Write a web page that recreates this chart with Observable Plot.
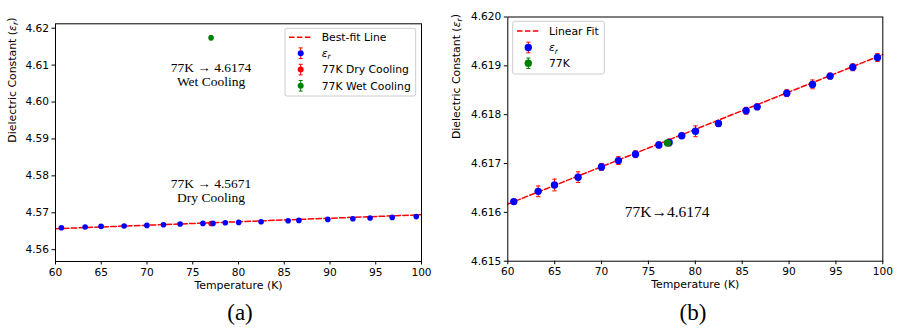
<!DOCTYPE html>
<html><head><meta charset="utf-8">
<script src="https://cdn.jsdelivr.net/npm/d3@7"></script>
<script src="https://cdn.jsdelivr.net/npm/@observablehq/plot@0.6"></script>
<style>
body{margin:0;background:#fff;}
#wrap{position:relative;width:897px;height:328px;overflow:hidden;}
.panel{position:absolute;top:0;}
.cap{position:absolute;top:301px;font-family:"Liberation Serif",serif;font-size:23px;line-height:23px;text-align:center;width:60px;color:#000;}
</style></head><body>
<div id="wrap"></div>
<script>
// ---- data ----
const temps = [60.64, 63.24, 64.98, 67.50, 69.99, 71.80, 73.62, 76.11, 77.21, 78.56, 80.02, 82.47, 85.42, 86.60, 89.76, 92.50, 94.38, 96.80, 99.43];
const epsA  = [4.56595, 4.56613, 4.56631, 4.56640, 4.56658, 4.56676, 4.56694, 4.56712, 4.56712, 4.56730, 4.56739, 4.56757, 4.56785, 4.56794, 4.56821, 4.56839, 4.56857, 4.56875, 4.56897];
const epsB  = [4.61622, 4.61643, 4.61656, 4.61672, 4.61693, 4.61706, 4.61719, 4.61738, 4.61743, 4.61757, 4.61766, 4.61782, 4.61808, 4.61816, 4.61844, 4.61862, 4.61879, 4.61897, 4.61917];
const errB  = [0.00004, 0.00011, 0.00012, 0.00011, 0.00007, 0.00008, 0.00007, 0.00006, 0.00007, 0.00005, 0.00011, 0.00006, 0.00007, 0.00006, 0.00007, 0.00009, 0.00006, 0.00007, 0.00008];
const errA  = errB;
const fitT  = [60, 100];
const fitA  = [4.56568, 4.56947];
const fitB  = [4.61617, 4.61923];
const dryT = [77.0], dryEps = [4.5671], dryErr = [0.0001];
const wetT = [77.0], wetEps = [4.6174], wetErr = [0.0005];
const b77T = [77.03], b77Eps = [4.61742], b77Err = [0.00005];
const xTicks  = [60, 65, 70, 75, 80, 85, 90, 95, 100];
const yTicksA = [4.56, 4.57, 4.58, 4.59, 4.60, 4.61, 4.62];
const yTicksB = [4.615, 4.616, 4.617, 4.618, 4.619, 4.620];
const annAtext = ["77K \u2192 4.6174\nWet Cooling", "77K \u2192 4.5671\nDry Cooling"];
const annAx = [77, 77], annAy = [4.6075, 4.5760];
const annBtext = ["77K\u21924.6174"];
const annBx = [77], annBy = [4.6160];
const legA = ["Best-fit Line", "EPS", "77K Dry Cooling", "77K Wet Cooling"];
const legB = ["Linear Fit", "EPS", "77K"];
const xLabel = "Temperature (K)";
const yLabel = "Dielectric Constant (EPS)";

// ---- colours ----
const BLUE = "#0000ff", RED = "#ff0000", GREEN = "#008000";

const rows = (T, E, R) => T.map((t, i) => ({T: t, eps: E[i], lo: E[i] - R[i], hi: E[i] + R[i]}));
const capSym = {draw(ctx, size){ const w = Math.sqrt(size / Math.PI); ctx.moveTo(-w, 0); ctx.lineTo(w, 0); }};

function errMarks(data, dotColor, barColor, r, capR){
  return [
    Plot.ruleX(data, {x: "T", y1: "lo", y2: "hi", stroke: barColor, strokeWidth: 1}),
    Plot.dot(data, {x: "T", y: "lo", symbol: capSym, r: capR, stroke: barColor, strokeWidth: 1, fill: "none"}),
    Plot.dot(data, {x: "T", y: "hi", symbol: capSym, r: capR, stroke: barColor, strokeWidth: 1, fill: "none"}),
    Plot.dot(data, {x: "T", y: "eps", r: r, fill: dotColor, stroke: "none"})
  ];
}

function fixEps(sel){
  sel.each(function(){
    const t = d3.select(this);
    const s = t.text();
    if (!s.includes("EPS")) return;
    const [a, b] = s.split("EPS");
    t.text(null);
    if (a) t.append("tspan").text(a);
    t.append("tspan").attr("font-style", "italic").text("\u03b5");
    t.append("tspan").attr("font-style", "italic").attr("font-size", "0.72em").attr("dy", "0.3em").text("r");
    if (b) t.append("tspan").attr("dy", "-0.3em").text(b);
  });
}

function legend(svg, items, box){
  const g = d3.select(svg).append("g").attr("font-family", "DejaVu Sans").attr("font-size", "10.8px").attr("text-anchor", "start");
  g.append("rect").attr("x", box.x).attr("y", box.y).attr("width", box.w).attr("height", box.h)
    .attr("rx", 2).attr("fill", "white").attr("fill-opacity", 0.85).attr("stroke", "#cccccc").attr("stroke-width", 1);
  items.forEach((it, i) => {
    const y = box.rows[i];
    if (it.kind === "line") {
      g.append("line").attr("x1", box.l1).attr("x2", box.l2).attr("y1", y).attr("y2", y)
        .attr("stroke", RED).attr("stroke-width", 1.5).attr("stroke-dasharray", "5.5,2.4");
    } else {
      const mx = box.mx;
      g.append("line").attr("x1", mx).attr("x2", mx).attr("y1", y - 5.3).attr("y2", y + 5.3).attr("stroke", it.bar).attr("stroke-width", 1);
      g.append("line").attr("x1", mx - 2).attr("x2", mx + 2).attr("y1", y - 5.3).attr("y2", y - 5.3).attr("stroke", it.bar).attr("stroke-width", 1);
      g.append("line").attr("x1", mx - 2).attr("x2", mx + 2).attr("y1", y + 5.3).attr("y2", y + 5.3).attr("stroke", it.bar).attr("stroke-width", 1);
      g.append("circle").attr("cx", mx).attr("cy", y).attr("r", box.r).attr("fill", it.dot);
    }
    g.append("text").attr("x", box.tx).attr("y", y).attr("dy", "0.36em").attr("text-anchor", "start").attr("fill", "black").text(it.label);
  });
  fixEps(g.selectAll("text"));
}

const style = {fontFamily: "DejaVu Sans", fontSize: "10.6px", color: "black", background: "white", overflow: "visible"};

// ---- panel (a) ----
const mainA = rows(temps, epsA, errA);
const dryA = rows(dryT, dryEps, dryErr);
const wetA = rows(wetT, wetEps, wetErr);
const fitAData = fitT.map((t, i) => ({T: t, eps: fitA[i]}));
const annA = annAtext.map((t, i) => ({text: t, x: annAx[i], y: annAy[i]}));

const plotA = Plot.plot({
  width: 449, height: 300,
  marginLeft: 55, marginRight: 28, marginTop: 23.3, marginBottom: 39,
  style,
  x: {domain: [60, 100], ticks: xTicks, tickFormat: d => String(d), tickSize: 3.5, tickPadding: 3, label: null},
  y: {domain: [4.5568, 4.6212], ticks: yTicksA, tickFormat: d3.format(".2f"), tickSize: 3.5, tickPadding: 3, label: null},
  marks: [
    Plot.line(fitAData, {x: "T", y: "eps", stroke: RED, strokeWidth: 1.5, strokeDasharray: "5.5,2.4"}),
    ...errMarks(dryA, RED, RED, 2.8, 2),
    ...errMarks(mainA, BLUE, RED, 2.8, 2),
    ...errMarks(wetA, GREEN, GREEN, 2.8, 2),
    Plot.text(annA, {x: "x", y: "y", text: "text", fontFamily: "Liberation Serif", fontSize: 13.5, lineHeight: 1.05, fill: "black"}),
    Plot.text([xLabel], {text: d => d, frameAnchor: "bottom", dy: 27.3, fontSize: 10.9, fill: "black"}),
    Plot.text([yLabel], {text: d => d, frameAnchor: "left", dx: -43, rotate: -90, fontSize: 10.9, fill: "black"}),
    Plot.frame({stroke: "black", strokeWidth: 1})
  ]
});
fixEps(d3.select(plotA).selectAll("text"));
legend(plotA, [
  {label: legA[0], kind: "line"},
  {label: legA[1], kind: "err", dot: BLUE, bar: RED},
  {label: legA[2], kind: "err", dot: RED, bar: RED},
  {label: legA[3], kind: "err", dot: GREEN, bar: GREEN}
], {x: 285, y: 28.3, w: 130.7, h: 67.7, rows: [37.3, 53.2, 69.6, 85.8], l1: 289, l2: 311.7, mx: 300.7, tx: 321.7, r: 3});

// ---- panel (b) ----
const mainB = rows(temps, epsB, errB);
const g77 = rows(b77T, b77Eps, b77Err);
const fitBData = fitT.map((t, i) => ({T: t, eps: fitB[i]}));
const annB = annBtext.map((t, i) => ({text: t, x: annBx[i], y: annBy[i]}));

const plotB = Plot.plot({
  width: 448, height: 300,
  marginLeft: 58.3, marginRight: 14.7, marginTop: 16.5, marginBottom: 39.3,
  style,
  x: {domain: [60, 100], ticks: xTicks, tickFormat: d => String(d), tickSize: 3.5, tickPadding: 3, label: null},
  y: {domain: [4.615, 4.620], ticks: yTicksB, tickFormat: d3.format(".3f"), tickSize: 3.5, tickPadding: 3, label: null},
  marks: [
    Plot.line(fitBData, {x: "T", y: "eps", stroke: RED, strokeWidth: 1.5, strokeDasharray: "5.5,2.4"}),
    ...errMarks(mainB, BLUE, RED, 3.7, 2.2),
    ...errMarks(g77, GREEN, GREEN, 3.7, 2.2),
    Plot.text(annB, {x: "x", y: "y", text: "text", fontFamily: "Liberation Serif", fontSize: 15.5, fill: "black"}),
    Plot.text([xLabel], {text: d => d, frameAnchor: "bottom", dy: 26.6, fontSize: 10.9, fill: "black"}),
    Plot.text([yLabel], {text: d => d, frameAnchor: "left", dx: -51.3, rotate: -90, fontSize: 10.9, fill: "black"}),
    Plot.frame({stroke: "black", strokeWidth: 1})
  ]
});
fixEps(d3.select(plotB).selectAll("text"));
legend(plotB, [
  {label: legB[0], kind: "line"},
  {label: legB[1], kind: "err", dot: BLUE, bar: RED},
  {label: legB[2], kind: "err", dot: GREEN, bar: GREEN}
], {x: 63.7, y: 21.3, w: 91.6, h: 52.7, rows: [31, 47.5, 63.3], l1: 68, l2: 91, mx: 79.3, tx: 100, r: 3.7});

// ---- layout ----
const wrap = document.getElementById("wrap");
const pa = document.createElement("div"); pa.className = "panel"; pa.style.left = "0px"; pa.appendChild(plotA);
const pb = document.createElement("div"); pb.className = "panel"; pb.style.left = "449px"; pb.appendChild(plotB);
wrap.appendChild(pa); wrap.appendChild(pb);
const ca = document.createElement("div"); ca.className = "cap"; ca.style.left = (240 - 30) + "px"; ca.textContent = "(a)";
const cb = document.createElement("div"); cb.className = "cap"; cb.style.left = (693 - 30) + "px"; cb.textContent = "(b)";
wrap.appendChild(ca); wrap.appendChild(cb);
</script>
</body></html>
